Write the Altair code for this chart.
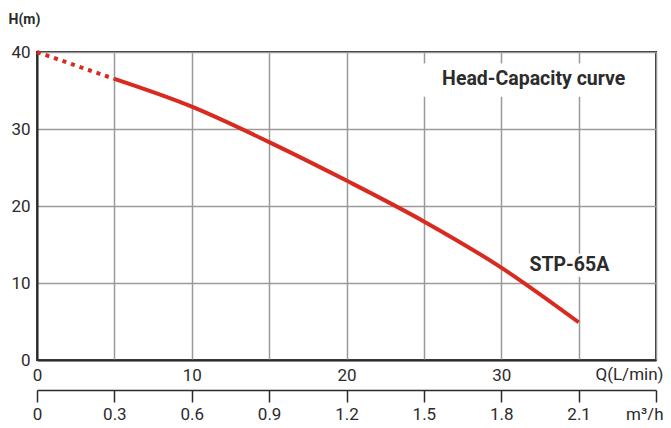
import altair as alt
import pandas as pd

# ---- data ----
q_dotted = [0, 5]            # L/min
h_dotted = [40, 36.5]        # m
q_solid = [5, 10, 15, 20, 25, 30, 35]
h_solid = [36.5, 32.9, 28.3, 23.3, 18.0, 12.0, 4.9]

grid_q = list(range(0, 41, 5))          # L/min grid / ticks
grid_h = list(range(0, 41, 5))          # m grid
m3h_ticks = [0, 0.3, 0.6, 0.9, 1.2, 1.5, 1.8, 2.1, 2.4]

labels = ["Head-Capacity curve", "STP-65A"]
label_q = [32.1, 34.4]
label_h = [36.5, 12.35]
box_q1 = [24.9, 31.5]
box_q2 = [39.2, 37.4]
box_h1 = [34.2, 10.8]
box_h2 = [38.5, 13.8]

FONT = "Roboto"
RED = "#d92a1f"
DARK = "#2b2b2b"
GRID = "#9a9a9a"

dotted = pd.DataFrame({"Q": q_dotted, "H": h_dotted})
solid = pd.DataFrame({"Q": q_solid, "H": h_solid})
solid["Qm"] = solid["Q"] * 0.06
ann = pd.DataFrame({"t": labels, "Q": label_q, "H": label_h,
                    "q1": box_q1, "q2": box_q2, "h1": box_h1, "h2": box_h2})

xs = alt.Scale(domain=[0, 40], nice=False, zero=False)
ys = alt.Scale(domain=[0, 40], nice=False, zero=False)

y_axis = alt.Axis(values=grid_h, grid=True, gridColor=GRID, gridWidth=1.5,
                  labelExpr="datum.value % 10 == 0 ? datum.label : ''",
                  ticks=False, tickSize=0, domainColor=DARK, domainWidth=2,
                  labelPadding=7, labelFont=FONT, labelFontSize=17, labelColor=DARK,
                  title="H(m)", titleAngle=0, titleAlign="left", titleBaseline="middle",
                  titleX=-29, titleY=-33, titleFont=FONT, titleFontSize=14,
                  titleFontWeight="bold", titleColor=DARK)

x_axis = alt.Axis(values=grid_q, grid=True, gridColor=GRID, gridWidth=1.5,
                  labelExpr="(datum.value % 10 == 0 && datum.value < 40) ? datum.label : ''",
                  ticks=False, tickSize=0, domainColor=DARK, domainWidth=2,
                  labelPadding=7, labelFont=FONT, labelFontSize=17, labelColor=DARK,
                  labelFlush=False,
                  title="Q(L/min)", titleAlign="right", titleBaseline="middle",
                  titleX=626, titleY=14, titleFont=FONT, titleFontSize=17,
                  titleFontWeight="normal", titleColor=DARK)

m3_axis = alt.Axis(orient="bottom", offset=30, values=m3h_ticks, grid=False,
                   labelExpr="datum.value < 2.35 ? format(datum.value, '~g') : ''",
                   ticks=True, tickSize=12, tickColor=DARK, tickWidth=1.5,
                   domainColor=DARK, domainWidth=1.5, labelFlush=False,
                   labelPadding=4, labelFont=FONT, labelFontSize=17, labelColor=DARK,
                   title="m³/h", titleAlign="right", titleBaseline="middle",
                   titleX=626, titleY=24, titleFont=FONT, titleFontSize=17,
                   titleFontWeight="normal", titleColor=DARK)

base_grid = alt.Chart(dotted).mark_line(opacity=0).encode(
    x=alt.X("Q:Q", scale=xs, axis=x_axis),
    y=alt.Y("H:Q", scale=ys, axis=y_axis),
)

boxes = alt.Chart(ann).mark_rect(color="white").encode(
    x=alt.X("q1:Q", scale=xs, axis=None), x2="q2",
    y=alt.Y("h1:Q", scale=ys), y2="h2",
)

texts = alt.Chart(ann).mark_text(font=FONT, fontSize=19.5, fontWeight="bold",
                                 color=DARK, baseline="middle", align="center").encode(
    x=alt.X("Q:Q", scale=xs, axis=None),
    y=alt.Y("H:Q", scale=ys),
    text="t:N",
)

dots = alt.Chart(dotted).mark_line(color=RED, strokeWidth=4, strokeDash=[4, 5],
                                   strokeCap="butt").encode(
    x=alt.X("Q:Q", scale=xs, axis=None),
    y=alt.Y("H:Q", scale=ys),
)

curve = alt.Chart(solid).mark_line(color=RED, strokeWidth=4, interpolate="monotone",
                                   strokeCap="butt").encode(
    x=alt.X("Qm:Q", scale=alt.Scale(domain=[0, 2.4], nice=False, zero=False), axis=m3_axis),
    y=alt.Y("H:Q", scale=ys),
)

chart = alt.layer(base_grid, boxes, texts, dots, curve).resolve_scale(
    x="independent"
).properties(
    width=619, height=308,
    autosize=alt.AutoSizeParams(type="none"),
    padding={"left": 29, "top": 44, "right": 7, "bottom": 60},
    background="white",
).configure_view(stroke=DARK, strokeWidth=2)

chart.save("out.html", embed_options={"renderer": "svg", "actions": False})
